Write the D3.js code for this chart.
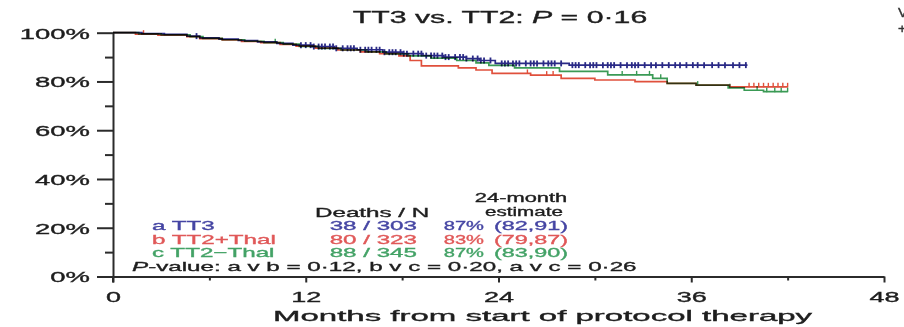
<!DOCTYPE html>
<html><head><meta charset="utf-8">
<script src="https://cdn.jsdelivr.net/npm/d3@7"></script>
<style>
body{margin:0;background:#fff}
svg{display:block}
text{font-family:"Liberation Sans",Arial,Helvetica,sans-serif}
</style></head><body>
<svg id="chart" width="904" height="327"></svg>
<script>
// Kaplan–Meier overall survival steps: [month, % alive]
const tt3Steps = [[0,100],[1.8,99.6],[3.2,99.3],[4.6,98.6],[5.4,97.9],[6.6,97.4],[7.8,96.8],[9.0,96.2],[10.2,95.6],[11.2,94.9],[12.4,94.3],[13.8,93.6],[15.2,93.0],[16.8,92.0],[18.0,91.4],[19.3,90.6],[20.6,90.0],[22.0,89.4],[22.8,88.6],[23.8,87.4],[28.4,86.7]];
const thalPlusSteps = [[0,100],[1.4,99.4],[2.8,99.0],[4.6,98.4],[5.4,97.6],[6.8,97.0],[8.0,96.4],[9.2,95.9],[10.4,95.2],[11.4,94.5],[12.6,93.7],[14.0,92.9],[15.4,92.1],[16.6,91.4],[17.8,90.5],[18.5,88.6],[19.2,86.4],[21.5,85.6],[22.6,84.7],[23.6,83.3],[26.0,82.6],[27.9,81.3],[30.0,80.6],[32.5,79.9],[34.5,79.2],[36.3,78.5],[38.4,77.8]];
const thalMinusSteps = [[0,100],[1.6,99.5],[3.0,99.1],[4.8,98.4],[5.6,97.7],[6.8,97.1],[8.2,96.5],[9.4,95.9],[10.6,95.3],[11.6,94.4],[12.8,93.6],[14.2,92.9],[15.8,92.1],[17.0,91.3],[18.4,90.5],[19.8,89.6],[21.4,88.6],[22.6,87.6],[23.4,86.6],[25.0,85.6],[27.8,84.1],[30.8,82.7],[33.6,81.3],[34.5,79.2],[36.3,78.5],[38.3,77.4],[39.3,76.4],[40.5,75.8]];
const followUpEnd = [39.5, 42.0, 42.0];

// Censored observations (months)
const tt3Censor = [5.2,11.7,12.0,12.3,12.5,12.8,13.0,13.2,13.5,13.7,13.9,14.3,14.6,14.8,15.0,15.4,15.7,15.9,16.1,16.4,16.6,16.9,17.2,17.4,17.6,17.9,18.1,18.3,18.7,19.0,19.2,19.5,19.8,20.0,20.2,20.5,20.7,20.9,21.3,21.6,21.8,22.0,22.4,22.7,22.9,23.1,23.5,24.2,24.4,24.6,24.9,25.1,25.3,25.7,26.0,26.2,26.4,26.8,27.1,27.3,27.5,27.9,28.6,28.8,29.0,29.4,29.7,29.9,30.1,30.5,30.8,31.0,31.2,31.6,32.0,32.3,32.5,32.7,33.1,33.5,33.8,34.2,34.6,35.0,35.3,35.7,36.1,36.4,36.8,37.3,37.7,38.1,38.6,39.0,39.4];
const thalPlusCensor = [1.9,25.8,27.0,27.4,39.6,39.9,40.2,40.5,40.8,41.1,41.4,41.7,42.0];
const thalMinusCensor = [10.1,31.7,32.6,33.4,34.1,36.4,38.4,40.1,40.7,41.2,41.6,42.0];

// Legend table
const armLabels = ["a TT3","b TT2+Thal","c TT2\u2212Thal"];
const deaths = [38,80,88];
const patients = [303,323,345];
const est24 = [87,83,87];
const ciLow = [82,79,83];
const ciHigh = [91,87,90];
const pairP = [["a v b","0\u00b712"],["b v c","0\u00b720"],["a v c","0\u00b726"]];
const overallP = "0\u00b716";

// Axis ticks
const xTicks = [0,12,24,36,48];
const xMinorTicks = [6,18,30,42];
const yTicks = [0,20,40,60,80,100];
const yMinorTicks = [10,30,50,70,90];

const lineColors = ["#2a2a86","#e0503c","#3a9a55"];
const textColors = ["#4545a3","#e05858","#43a266"];
const SX = 1.86; // wide lettering

const svg = d3.select("#chart");
const x = d3.scaleLinear().domain([0,48]).range([113,884]);
const y = d3.scaleLinear().domain([0,100]).range([276.5,32.7]);

function stext(g, px, py, size, sx, anchor, fill) {
  return g.append("text")
    .attr("transform", `translate(${px},${py}) scale(${sx},1)`)
    .attr("text-anchor", anchor).attr("font-size", size).attr("fill", fill)
    .attr("stroke", fill).attr("stroke-width", 0.35);
}

// ---- axes
const yAxis = svg.append("g").attr("transform","translate(113,0)")
  .call(d3.axisLeft(y).tickValues(yTicks).tickSize(16).tickSizeOuter(0).tickPadding(7).tickFormat(d => d + "%"));
const yMinor = svg.append("g").attr("transform","translate(113,0)")
  .call(d3.axisLeft(y).tickValues(yMinorTicks).tickSize(8).tickFormat(""));
yMinor.select(".domain").remove();

const xAxis = svg.append("g").attr("transform","translate(0,276.5)")
  .call(d3.axisBottom(x).tickValues(xTicks).tickSize(6).tickSizeOuter(0).tickPadding(9).tickFormat(d3.format("d")));
const xMinor = svg.append("g").attr("transform","translate(0,276.5)")
  .call(d3.axisBottom(x).tickValues(xMinorTicks).tickSize(4).tickFormat(""));
xMinor.select(".domain").remove();
// extend vertical axis down to the x-axis tick length
svg.append("line").attr("x1",113).attr("x2",113).attr("y1",276.5).attr("y2",282.5);

svg.selectAll(".domain, .tick line, line").attr("stroke","#2b2b2b").attr("stroke-width",2);
svg.selectAll(".domain").attr("fill","none");

yAxis.selectAll(".tick text")
  .attr("x",0).attr("dy","0.36em")
  .attr("transform", `translate(-23,0) scale(1.83,1)`)
  .attr("font-size",15).attr("fill","#1e1e1e").attr("stroke","#1e1e1e").attr("stroke-width",0.35);
xAxis.selectAll(".tick text")
  .attr("transform","scale(1.8,1)").attr("font-size",15)
  .attr("fill","#1e1e1e").attr("stroke","#1e1e1e").attr("stroke-width",0.35);

// ---- survival curves
const arms = [
  {steps: tt3Steps, censor: tt3Censor, end: followUpEnd[0], color: lineColors[0], tick:[-3,3], tw:1.8},
  {steps: thalPlusSteps, censor: thalPlusCensor, end: followUpEnd[1], color: lineColors[1], tick:[-4,0.5], tw:1.4},
  {steps: thalMinusSteps, censor: thalMinusCensor, end: followUpEnd[2], color: lineColors[2], tick:[-4,0.5], tw:1.4}
];
function survAt(steps, t) {
  let v = steps[0][1];
  for (const s of steps) if (s[0] <= t) v = s[1];
  return v;
}
const line = d3.line().x(d => x(d[0])).y(d => y(d[1])).curve(d3.curveStepAfter);
const curves = svg.append("g");
// draw order: c, b, a (TT3 on top)
[2,1,0].forEach(i => {
  const a = arms[i];
  const pts = a.steps.concat([[a.end, survAt(a.steps, a.end)]]);
  const g = curves.append("g").style("mix-blend-mode","multiply");
  g.append("path").attr("d", line(pts)).attr("fill","none")
    .attr("stroke", a.color).attr("stroke-width",1.7);
  g.selectAll("line").data(a.censor).join("line")
    .attr("x1", d => x(d)).attr("x2", d => x(d))
    .attr("y1", d => y(survAt(a.steps,d)) + a.tick[0])
    .attr("y2", d => y(survAt(a.steps,d)) + a.tick[1])
    .attr("stroke", a.color).attr("stroke-width",a.tw);
});

// ---- title
const title = stext(svg, 500, 23, 17, 1.78, "middle", "#1e1e1e");
title.append("tspan").text("TT3 vs. TT2: ");
title.append("tspan").attr("font-style","italic").text("P");
title.append("tspan").text(" = " + overallP);

// ---- x-axis title
stext(svg, 273, 321, 15, 2.2, "start", "#1e1e1e").text("Months from start of protocol therapy");

// ---- legend table
const lg = svg.append("g");
stext(lg, 315, 217, 13, SX, "start", "#1e1e1e").text("Deaths / N");
stext(lg, 521, 202, 12.5, 1.75, "middle", "#1e1e1e").text("24-month");
stext(lg, 524, 215.5, 12.5, 1.65, "middle", "#1e1e1e").text("estimate");
const rowY = [230, 243.5, 257];
armLabels.forEach((lab, i) => {
  stext(lg, 152, rowY[i], 13, SX, "start", textColors[i]).text(lab);
  stext(lg, 417, rowY[i], 13, SX, "end", textColors[i]).text(`${deaths[i]} / ${patients[i]}`);
  stext(lg, 484, rowY[i], 13, 1.55, "end", textColors[i]).text(`${est24[i]}%`);
  stext(lg, 494, rowY[i], 13, 1.8, "start", textColors[i]).text(`(${ciLow[i]},${ciHigh[i]})`);
});
const pv = stext(lg, 132, 270.5, 13, SX, "start", "#1e1e1e");
pv.append("tspan").attr("font-style","italic").text("P");
pv.append("tspan").text("-value: " + pairP.map(p => `${p[0]} = ${p[1]}`).join(", "));

// ---- neighbouring panel edge
stext(svg, 898, 17, 12, 1.2, "start", "#333").text("V");
stext(svg, 898, 33, 12, 1.2, "start", "#333").text("+");
</script>
</body></html>
